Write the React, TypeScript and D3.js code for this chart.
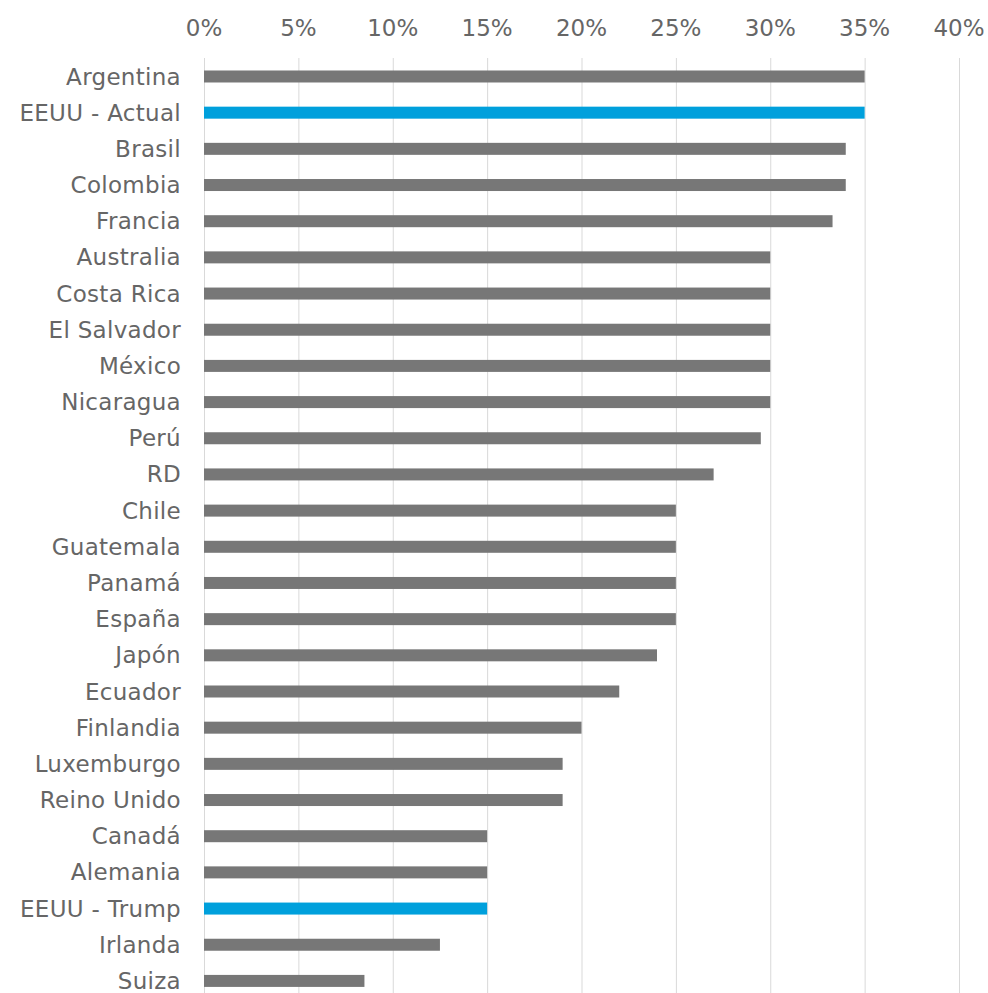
import React, { useEffect, useRef } from "react";
import * as d3 from "d3";

const countries = [
  "Argentina", "EEUU - Actual", "Brasil", "Colombia", "Francia", "Australia",
  "Costa Rica", "El Salvador", "México", "Nicaragua", "Perú", "RD", "Chile",
  "Guatemala", "Panamá", "España", "Japón", "Ecuador", "Finlandia",
  "Luxemburgo", "Reino Unido", "Canadá", "Alemania", "EEUU - Trump",
  "Irlanda", "Suiza",
];
const rates = [
  35, 35, 34, 34, 33.3, 30, 30, 30, 30, 30, 29.5, 27, 25, 25, 25, 25, 24, 22,
  20, 19, 19, 15, 15, 15, 12.5, 8.5,
];
const highlighted = ["EEUU - Actual", "EEUU - Trump"];
const xTicks = [0, 5, 10, 15, 20, 25, 30, 35, 40];

const W = 988, H = 993;
const FONT = "'DejaVu Sans', Verdana, sans-serif";

const App = () => {
  const ref = useRef<SVGSVGElement>(null);

  useEffect(() => {
    const svg = d3.select(ref.current);
    svg.selectAll("*").remove();

    const data = countries.map((c, i) => ({ name: c, value: rates[i] }));

    const x = d3.scaleLinear().domain([0, 40]).range([204, 959]);
    const y = d3.scalePoint().domain(countries).range([58.4, 999]).padding(0.5);
    const barH = 12;

    // gridlines
    svg.append("g")
      .selectAll("line")
      .data(xTicks)
      .join("line")
      .attr("x1", (d) => x(d) + 0.5)
      .attr("x2", (d) => x(d) + 0.5)
      .attr("y1", 58)
      .attr("y2", H)
      .attr("stroke", "#d9d9d9")
      .attr("stroke-width", 1);

    // tick labels on top
    svg.append("g")
      .selectAll("text")
      .data(xTicks)
      .join("text")
      .attr("x", (d) => x(d))
      .attr("y", 36)
      .attr("text-anchor", "middle")
      .attr("font-family", FONT)
      .attr("font-size", 23)
      .attr("fill", "#666666")
      .text((d) => d + "%");

    // bars
    svg.append("g")
      .selectAll("rect")
      .data(data)
      .join("rect")
      .attr("x", x(0))
      .attr("y", (d) => (y(d.name) as number) - barH / 2)
      .attr("width", (d) => x(d.value) - x(0))
      .attr("height", barH)
      .attr("fill", (d) => (highlighted.includes(d.name) ? "#00a0dc" : "#777777"));

    // category labels
    svg.append("g")
      .selectAll("text")
      .data(data)
      .join("text")
      .attr("x", 181)
      .attr("y", (d) => y(d.name) as number)
      .attr("dy", "0.35em")
      .attr("text-anchor", "end")
      .attr("font-family", FONT)
      .attr("font-size", 23)
      .attr("letter-spacing", 0.3)
      .attr("fill", "#666666")
      .text((d) => d.name);
  }, []);

  return (
    <svg
      ref={ref}
      width={W}
      height={H}
      style={{ position: "absolute", left: 0, top: 0, background: "#fff" }}
    />
  );
};

export default App;
